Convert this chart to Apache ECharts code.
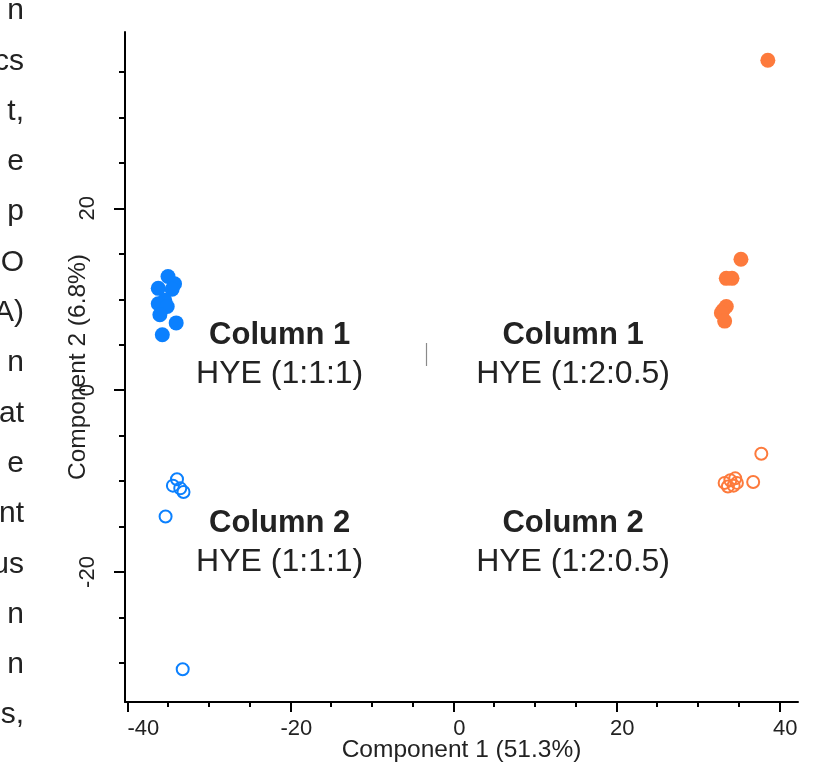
<html style="height: 100%">
	<head>
		<meta charset="utf-8">
	</head>
	<body style="height: 100%; width: 100%; margin: 0; background: #fff">
		<div id="container" style="height: 766px;width: 820px;"></div>
		<script type="text/javascript" src="https://cdn.jsdelivr.net/npm/echarts@6/dist/echarts.min.js"></script>
		<script type="text/javascript">
			// PCA scores
			var col1EqX = [-35.0, -36.2, -34.2, -34.5, -35.4, -36.2, -35.1, -36.0, -34.0, -35.7];
			var col1EqY = [12.5, 11.2, 11.7, 11.1, 9.9, 9.5, 9.2, 8.3, 7.4, 6.1];
			var col2EqX = [-33.9, -34.4, -33.5, -33.1, -35.3, -33.2];
			var col2EqY = [-9.8, -10.5, -10.8, -11.2, -13.9, -30.7];
			var col1DiffX = [38.6, 35.3, 33.5, 34.2, 33.5, 33.1, 32.9, 33.3];
			var col1DiffY = [36.3, 14.4, 12.3, 12.3, 9.2, 8.8, 8.5, 7.6];
			var col2DiffX = [37.8, 36.8, 33.3, 34.0, 34.6, 34.8, 33.7, 34.4];
			var col2DiffY = [-7.0, -10.1, -10.2, -9.9, -9.7, -10.2, -10.6, -10.5];

			// text blocks inside the plot
			var noteX = [-21.3, 14.7, -21.3, 14.7];
			var noteY = [3.9, 3.9, -16.8, -16.8];
			var noteTitle = ['Column 1', 'Column 1', 'Column 2', 'Column 2'];
			var noteSub = ['HYE (1:1:1)', 'HYE (1:2:0.5)', 'HYE (1:1:1)', 'HYE (1:2:0.5)'];

			// ticks
			var xMajor = [-40, -20, 0, 20, 40];
			var xMinor = [-35, -30, -25, -15, -10, -5, 5, 10, 15, 25, 30, 35];
			var yMajor = [-20, 0, 20];
			var yMinor = [-30, -25, -15, -10, -5, 5, 10, 15, 25, 30, 35];

			// cut-off paragraph on the left edge
			var marginText = ['n', 'cs', 't,', 'e', 'p', 'O', 'CA)', 'n', 'at', 'e', 'nt', 'us', 'n', 'n', 's,', '.'];

			var BLUE = '#0b80fe';
			var ORANGE = '#fd7a3c';
			var FONT = '"Liberation Sans", Arial, sans-serif';

			function pairs(xs, ys) {
				var out = [];
				for (var i = 0; i < xs.length; i++) out.push([xs[i], ys[i]]);
				return out;
			}

			var dom = document.getElementById("container");
			var myChart = echarts.init(dom, null, {renderer: 'canvas'});

			var graphics = [];
			for (var i = 0; i < marginText.length; i++) {
				graphics.push({
					type: 'text',
					x: 24,
					y: 11 + 50.3 * i,
					style: {
						text: marginText[i],
						fill: '#222',
						font: '30px ' + FONT,
						textAlign: 'right',
						textVerticalAlign: 'middle'
					}
				});
			}
			// small grey cursor mark in the middle of the plot
			graphics.push({
				type: 'line',
				shape: {x1: 426.5, y1: 343, x2: 426.5, y2: 366},
				style: {stroke: '#8a8a8a', lineWidth: 1.2}
			});

			var xMin = -40.28, xMax = 42.3, yMin = -34.3, yMax = 39.4;

			var axisLine = {show: true, onZero: false, lineStyle: {color: '#000', width: 2}};
			var hiddenLine = {show: false, onZero: false};

			var option = {
				backgroundColor: '#fff',
				animation: false,
				grid: {left: 125, right: 22, top: 32, bottom: 64, containLabel: false, outerBoundsMode: 'none'},
				graphic: graphics,
				xAxis: [{
					type: 'value', position: 'bottom', min: xMin, max: xMax,
					axisLine: axisLine,
					axisTick: {show: true, customValues: xMinor, length: 5, lineStyle: {color: '#000', width: 2}},
					axisLabel: {show: false},
					splitLine: {show: false}
				}, {
					type: 'value', position: 'bottom', min: xMin, max: xMax,
					axisLine: hiddenLine,
					axisTick: {show: true, customValues: xMajor, length: 10, lineStyle: {color: '#000', width: 2}},
					axisLabel: {
						customValues: xMajor, fontSize: 22, color: '#222', fontFamily: FONT, margin: 16, padding: [0, 0, 0, 12],
						formatter: function(v) {
							return v === -40 ? '{w|' + v + '}' : '' + v;
						},
						rich: {w: {fontSize: 22, color: '#222', fontFamily: FONT, padding: [0, 0, 0, 20]}}
					},
					splitLine: {show: false},
					name: 'Component 1 (51.3%)',
					nameLocation: 'middle',
					nameGap: 36,
					nameMoveOverlap: false,
					nameTextStyle: {fontSize: 24.5, color: '#222', fontFamily: FONT}
				}],
				yAxis: [{
					type: 'value', position: 'left', min: yMin, max: yMax,
					axisLine: axisLine,
					axisTick: {show: true, customValues: yMinor, length: 6, lineStyle: {color: '#000', width: 2}},
					axisLabel: {show: false},
					splitLine: {show: false}
				}, {
					type: 'value', position: 'left', min: yMin, max: yMax,
					axisLine: hiddenLine,
					axisTick: {show: true, customValues: yMajor, length: 11, lineStyle: {color: '#000', width: 2}},
					axisLabel: {customValues: yMajor, rotate: 90, fontSize: 22, color: '#222', fontFamily: FONT, margin: 26},
					splitLine: {show: false},
					name: 'Component 2 (6.8%)',
					nameLocation: 'middle',
					nameGap: 34,
					nameMoveOverlap: false,
					nameTextStyle: {fontSize: 24.5, color: '#222', fontFamily: FONT}
				}],
				series: [{
					type: 'scatter', xAxisIndex: 0, yAxisIndex: 0,
					symbol: 'circle', symbolSize: 15,
					itemStyle: {color: BLUE, opacity: 1},
					data: pairs(col1EqX, col1EqY)
				}, {
					type: 'scatter', xAxisIndex: 0, yAxisIndex: 0,
					symbol: 'circle', symbolSize: 12,
					itemStyle: {color: 'rgba(0,0,0,0)', borderColor: BLUE, borderWidth: 2, opacity: 1},
					data: pairs(col2EqX, col2EqY)
				}, {
					type: 'scatter', xAxisIndex: 0, yAxisIndex: 0,
					symbol: 'circle', symbolSize: 15,
					itemStyle: {color: ORANGE, opacity: 1},
					data: pairs(col1DiffX, col1DiffY)
				}, {
					type: 'scatter', xAxisIndex: 0, yAxisIndex: 0,
					symbol: 'circle', symbolSize: 12,
					itemStyle: {color: 'rgba(0,0,0,0)', borderColor: ORANGE, borderWidth: 2, opacity: 1},
					data: pairs(col2DiffX, col2DiffY)
				}, {
					type: 'scatter', xAxisIndex: 0, yAxisIndex: 0,
					symbolSize: 0, silent: true,
					itemStyle: {opacity: 1},
					label: {
						show: true, position: 'inside', opacity: 1,
						formatter: function(p) {
							return '{t|' + noteTitle[p.dataIndex] + '}\n{s|' + noteSub[p.dataIndex] + '}';
						},
						rich: {
							t: {fontSize: 31, fontWeight: 'bold', color: '#222', fontFamily: FONT, lineHeight: 38, align: 'center'},
							s: {fontSize: 32, color: '#222', fontFamily: FONT, lineHeight: 38, align: 'center'}
						}
					},
					data: pairs(noteX, noteY)
				}]
			};

			if (option && typeof option === 'object') {
				myChart.setOption(option);
			}
		</script>
	</body>
</html>
